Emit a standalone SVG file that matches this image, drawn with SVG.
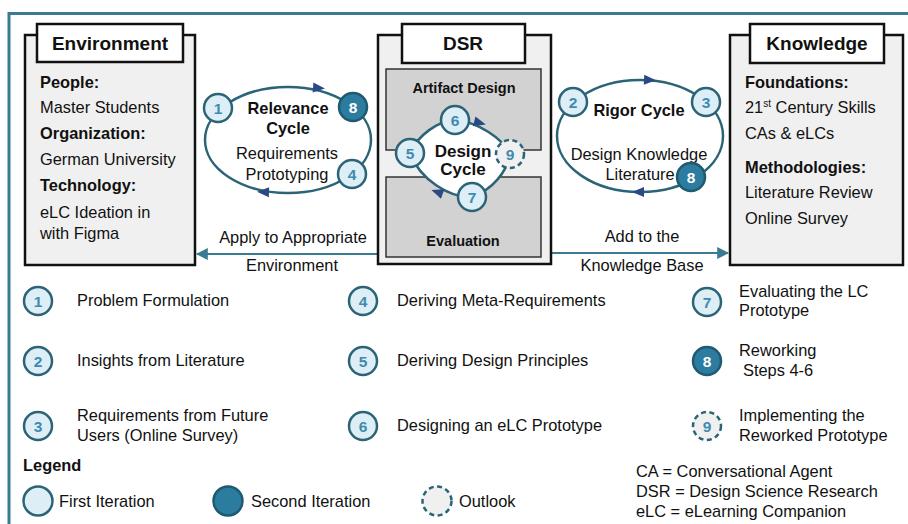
<svg xmlns="http://www.w3.org/2000/svg" width="908" height="524" viewBox="0 0 908 524">
<style>
text{font-family:"Liberation Sans",Arial,sans-serif;fill:#111;}
.t{font-size:16.4px;}
.b{font-size:16.4px;font-weight:bold;}
.h{font-size:19px;font-weight:bold;text-anchor:middle;}
.c{text-anchor:middle;}
.box{fill:#f0f0f0;stroke:#111;stroke-width:2.5;}
.tab{fill:#fff;stroke:#111;stroke-width:2.5;}
.sub{fill:#d2d2d2;stroke:#333;stroke-width:1.5;}
.cyc{fill:#fff;stroke:#2b6477;stroke-width:2.5;}
.n1{fill:#ddeef6;stroke:#2b6477;stroke-width:2.5;}
.n2{fill:#2b7c9e;stroke:#1f5a70;stroke-width:2.5;}
.n3{fill:#f0f0f0;stroke:#2b6477;stroke-width:2.5;stroke-dasharray:5 3.5;}
.num{font-size:15.5px;font-weight:bold;text-anchor:middle;fill:#3f8bb0;}
.numw{font-size:15.5px;font-weight:bold;text-anchor:middle;fill:#fff;}
.tri{fill:#2b4a85;}
.conn{stroke:#3a7a93;stroke-width:2;fill:none;}
</style>
<defs>
<path id="tri" d="M -6 -5 L 6 0 L -6 5 Z"/>
<marker id="ah" viewBox="0 0 10 10" refX="9" refY="5" markerWidth="6" markerHeight="6" orient="auto-start-reverse" markerUnits="strokeWidth">
<path d="M0,0 L10,5 L0,10 Z" fill="#3a7a93"/>
</marker>
</defs>
<rect x="9" y="13.5" width="910" height="520" fill="none" stroke="#3a7a93" stroke-width="3"/>

<g id="connectors">
<line class="conn" x1="377" y1="254" x2="197" y2="254" marker-end="url(#ah)"/>
<line class="conn" x1="552" y1="253" x2="728" y2="253" marker-end="url(#ah)"/>
<text class="t c" x="293" y="243">Apply to Appropriate</text>
<text class="t c" x="292" y="271">Environment</text>
<text class="t c" x="642" y="242">Add to the</text>
<text class="t c" x="642" y="271">Knowledge Base</text>
</g>

<g id="environment">
<rect class="box" x="25" y="35" width="170" height="230"/>
<rect class="tab" x="37" y="24" width="146" height="38"/>
<text class="h" x="110" y="50">Environment</text>
<text class="b" x="40" y="88">People:</text>
<text class="t" x="40" y="113">Master Students</text>
<text class="b" x="40" y="139">Organization:</text>
<text class="t" x="40" y="165">German University</text>
<text class="b" x="40" y="191">Technology:</text>
<text class="t" x="40" y="218">eLC Ideation in</text>
<text class="t" x="40" y="239">with Figma</text>
</g>

<g id="relevance-cycle">
<ellipse class="cyc" cx="288" cy="140" rx="83" ry="53"/>
<use href="#tri" class="tri" transform="translate(319,88) rotate(4)"/>
<use href="#tri" class="tri" transform="translate(263,192) rotate(182)"/>
<text class="b c" x="288" y="114">Relevance</text>
<text class="b c" x="288" y="134">Cycle</text>
<text class="t c" x="287" y="159">Requirements</text>
<text class="t c" x="287" y="180">Prototyping</text>
<circle class="n1" cx="218" cy="108" r="14"/><text class="num" x="218" y="113.5">1</text>
<circle class="n2" cx="353" cy="107" r="14"/><text class="numw" x="353" y="112.5">8</text>
<circle class="n1" cx="352" cy="174" r="14"/><text class="num" x="352" y="179.5">4</text>
</g>

<g id="dsr">
<rect class="box" x="378" y="35" width="173" height="229"/>
<rect class="tab" x="402" y="24" width="123" height="39"/>
<text class="h" x="463" y="50">DSR</text>
<rect class="sub" x="386" y="69" width="155" height="81"/>
<rect class="sub" x="386" y="177" width="155" height="80"/>
<text class="c" x="464" y="93" style="font-size:14.5px;font-weight:bold">Artifact Design</text>
<text class="c" x="463" y="246" style="font-size:14.5px;font-weight:bold">Evaluation</text>
</g>

<g id="design-cycle">
<path class="cyc" d="M 410 153 C 418 135, 438 121, 455 120 C 478 122, 502 138, 510 154 C 507 172, 492 190, 472 197 C 450 198, 420 180, 410 153 Z"/>
<use href="#tri" class="tri" transform="translate(480,123) rotate(15)"/>
<use href="#tri" class="tri" transform="translate(437,192) rotate(200)"/>
<text class="c" x="463" y="157" style="font-size:17px;font-weight:bold">Design</text>
<text class="c" x="463" y="175" style="font-size:17px;font-weight:bold">Cycle</text>
<circle class="n1" cx="455" cy="120" r="14"/><text class="num" x="455" y="125.5">6</text>
<circle class="n1" cx="410" cy="153" r="14"/><text class="num" x="410" y="158.5">5</text>
<circle class="n3" cx="510" cy="154" r="14"/><text class="num" x="510" y="159.5">9</text>
<circle class="n1" cx="472" cy="197" r="14"/><text class="num" x="472" y="202.5">7</text>
</g>

<g id="rigor-cycle">
<ellipse class="cyc" cx="640" cy="136" rx="83" ry="56"/>
<use href="#tri" class="tri" transform="translate(650,80) rotate(2)"/>
<use href="#tri" class="tri" transform="translate(638,192) rotate(180)"/>
<text class="b c" x="639" y="116">Rigor Cycle</text>
<text class="t c" x="639" y="160">Design Knowledge</text>
<text class="t c" x="640" y="180">Literature</text>
<circle class="n1" cx="573" cy="102" r="14"/><text class="num" x="573" y="107.5">2</text>
<circle class="n1" cx="706" cy="102" r="14"/><text class="num" x="706" y="107.5">3</text>
<circle class="n2" cx="691" cy="177" r="14"/><text class="numw" x="691" y="182.5">8</text>
</g>

<g id="knowledge">
<rect class="box" x="730" y="35" width="173" height="230"/>
<rect class="tab" x="750" y="24" width="134" height="39"/>
<text class="h" x="817" y="50">Knowledge</text>
<text class="b" x="745" y="88">Foundations:</text>
<text class="t" x="745" y="113">21<tspan font-size="10" dy="-6">st</tspan><tspan dy="6"> Century Skills</tspan></text>
<text class="t" x="745" y="139">CAs &amp; eLCs</text>
<text class="b" x="745" y="173">Methodologies:</text>
<text class="t" x="745" y="198">Literature Review</text>
<text class="t" x="745" y="224">Online Survey</text>
</g>

<g id="steps">
<circle class="n1" cx="38" cy="301" r="14"/><text class="num" x="38" y="306.5">1</text>
<text class="t" x="77" y="306">Problem Formulation</text>
<circle class="n1" cx="38" cy="361" r="14"/><text class="num" x="38" y="366.5">2</text>
<text class="t" x="77" y="366">Insights from Literature</text>
<circle class="n1" cx="38" cy="426" r="14"/><text class="num" x="38" y="431.5">3</text>
<text class="t" x="77" y="421">Requirements from Future</text>
<text class="t" x="77" y="441">Users (Online Survey)</text>

<circle class="n1" cx="363" cy="301" r="14"/><text class="num" x="363" y="306.5">4</text>
<text class="t" x="397" y="306">Deriving Meta-Requirements</text>
<circle class="n1" cx="363" cy="361" r="14"/><text class="num" x="363" y="366.5">5</text>
<text class="t" x="397" y="366">Deriving Design Principles</text>
<circle class="n1" cx="363" cy="426" r="14"/><text class="num" x="363" y="431.5">6</text>
<text class="t" x="397" y="431">Designing an eLC Prototype</text>

<circle class="n1" cx="707" cy="302" r="14"/><text class="num" x="707" y="307.5">7</text>
<text class="t" x="739" y="297">Evaluating the LC</text>
<text class="t" x="739" y="316">Prototype</text>
<circle class="n2" cx="707" cy="361" r="14"/><text class="numw" x="707" y="366.5">8</text>
<text class="t" x="739" y="356">Reworking</text>
<text class="t" x="743" y="376">Steps 4-6</text>
<circle class="n3" cx="707" cy="426" r="14"/><text class="num" x="707" y="431.5">9</text>
<text class="t" x="739" y="421">Implementing the</text>
<text class="t" x="739" y="441">Reworked Prototype</text>
</g>

<g id="legend">
<text class="b" x="23" y="471">Legend</text>
<circle class="n1" cx="38" cy="501" r="14.5"/>
<text class="t" x="59" y="507">First Iteration</text>
<circle class="n2" cx="228" cy="501" r="14.5"/>
<text class="t" x="251" y="507">Second Iteration</text>
<circle class="n3" cx="437" cy="501" r="14.5"/>
<text class="t" x="459" y="507">Outlook</text>
<text class="t" x="636" y="477">CA = Conversational Agent</text>
<text class="t" x="636" y="497">DSR = Design Science Research</text>
<text class="t" x="636" y="517">eLC = eLearning Companion</text>
</g>
</svg>
